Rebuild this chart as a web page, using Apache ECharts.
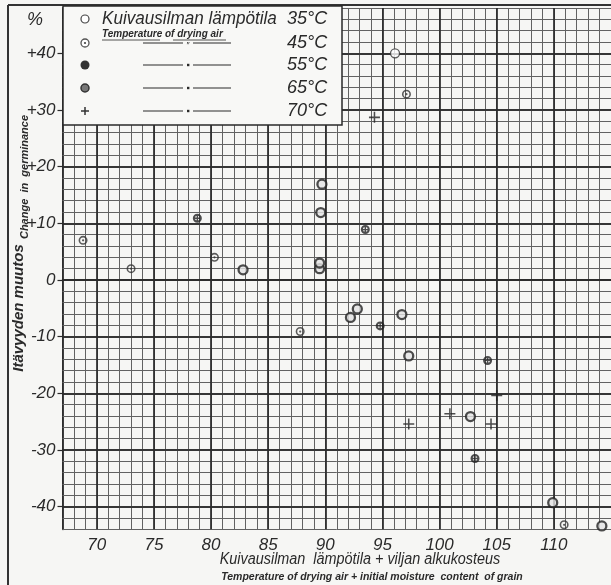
<!DOCTYPE html>
<html>
<head>
<meta charset="utf-8">
<script src="https://cdn.jsdelivr.net/npm/echarts@6/dist/echarts.min.js"></script>
<style>
  html, body { margin: 0; padding: 0; background: #f6f6f4; }
  #chart { width: 611px; height: 585px; }
</style>
</head>
<body>
<div id="chart"></div>
<script>
// pisteet: [lampotila + alkukosteus, itavyyden muutos %]
var t35 = [[96.1, 40]];
var t45 = [[68.8, 7], [73, 2], [80.3, 4], [87.8, -9.1], [97.1, 32.8], [110.9, -43.2]];
var t55 = [[78.8, 10.9], [93.5, 8.9], [94.8, -8.1], [104.2, -14.2], [103.1, -31.5]];
var t65 = [[82.8, 1.8], [89.7, 16.9], [89.6, 11.9], [89.5, 2], [89.5, 3], [92.2, -6.6], [92.8, -5.1],
           [96.7, -6.1], [97.3, -13.4], [102.7, -24.1], [109.9, -39.3], [114.2, -43.4]];
var t70 = [[94.3, 28.7], [97.3, -25.4], [100.9, -23.6], [105, -20.4], [104.5, -25.4]];

var xTicks = [70, 75, 80, 85, 90, 95, 100, 105, 110];
var yTicks = [-40, -30, -20, -10, 0, 10, 20, 30, 40];
var tempLabels = ['35°C', '45°C', '55°C', '65°C', '70°C'];

var ink = '#2a2a2a';
var font = 'Liberation Sans';

// merkit
var symDot = 'path://M10,0A10,10,0,1,1,-10,0A10,10,0,1,1,10,0ZM6.5,0A6.5,6.5,0,1,0,-6.5,0A6.5,6.5,0,1,0,6.5,0ZM2.5,0A2.5,2.5,0,1,1,-2.5,0A2.5,2.5,0,1,1,2.5,0Z';
var symCross = 'path://M10,0A10,10,0,1,1,-10,0A10,10,0,1,1,10,0ZM5.5,0A5.5,5.5,0,1,0,-5.5,0A5.5,5.5,0,1,0,5.5,0ZM-1.5,-6L1.5,-6L1.5,6L-1.5,6ZM-6,-1.5L6,-1.5L6,1.5L-6,1.5Z';
var symPlus = 'path://M-1.4,-10L1.4,-10L1.4,-1.4L10,-1.4L10,1.4L1.4,1.4L1.4,10L-1.4,10L-1.4,1.4L-10,1.4L-10,-1.4L-1.4,-1.4Z';

// vaakasuorat apuviivat 2 %:n valein
var yMinor = [];
for (var yv = -44; yv <= 48; yv += 2) {
    if (yv % 10 !== 0) yMinor.push(yv);
}

var myChart = echarts.init(document.getElementById('chart'));

function legendGraphics() {
    var g = [];
    g.push({type: 'rect', shape: {x: 63, y: 6, width: 279, height: 119},
        style: {fill: '#f8f8f6', stroke: ink, lineWidth: 1.5}, z: 100});
    var rows = [19, 43, 65, 88, 111];
    // symbolit
    g.push({type: 'circle', shape: {cx: 85, cy: rows[0], r: 4}, style: {fill: '#fff', stroke: '#444', lineWidth: 1.2}, z: 101});
    g.push({type: 'circle', shape: {cx: 85, cy: rows[1], r: 4}, style: {fill: '#fff', stroke: '#555', lineWidth: 1.3}, z: 101});
    g.push({type: 'circle', shape: {cx: 85, cy: rows[1], r: 1.1}, style: {fill: '#444'}, z: 102});
    g.push({type: 'circle', shape: {cx: 85, cy: rows[2], r: 4.5}, style: {fill: '#333'}, z: 101});
    g.push({type: 'circle', shape: {cx: 85, cy: rows[3], r: 4}, style: {fill: '#777', stroke: '#333', lineWidth: 1.5}, z: 101});
    g.push({type: 'line', shape: {x1: 81, y1: rows[4], x2: 89, y2: rows[4]}, style: {stroke: '#333', lineWidth: 1.5}, z: 101});
    g.push({type: 'line', shape: {x1: 85, y1: rows[4] - 4, x2: 85, y2: rows[4] + 4}, style: {stroke: '#333', lineWidth: 1.5}, z: 101});
    g.push({type: 'text', x: 102, y: rows[0], scaleX: 0.95, z: 101,
        style: {text: 'Kuivausilman lämpötila', font: 'italic 18px ' + font, fill: ink, textVerticalAlign: 'middle'}});
    g.push({type: 'text', x: 102, y: 34, z: 101,
        style: {text: 'Temperature of drying air', font: 'italic bold 10px ' + font, fill: ink, textVerticalAlign: 'middle'}});
    g.push({type: 'line', shape: {x1: 102, y1: 40, x2: 160, y2: 40}, style: {stroke: ink, lineWidth: 0.8}, z: 101});
    g.push({type: 'line', shape: {x1: 173, y1: 40, x2: 226, y2: 40}, style: {stroke: ink, lineWidth: 0.8}, z: 101});
    for (var i = 0; i < tempLabels.length; i++) {
        g.push({type: 'text', x: 287, y: rows[i], scaleX: 0.95, z: 101,
            style: {text: tempLabels[i], font: 'italic 19px ' + font, fill: ink, textVerticalAlign: 'middle'}});
        if (i > 0) {
            g.push({type: 'line', shape: {x1: 143, y1: rows[i], x2: 183, y2: rows[i]}, style: {stroke: ink, lineWidth: 1}, z: 101});
            g.push({type: 'line', shape: {x1: 193, y1: rows[i], x2: 231, y2: rows[i]}, style: {stroke: ink, lineWidth: 1}, z: 101});
            if (i === 1) {
                g.push({type: 'text', x: 188, y: rows[i] + 3, z: 101,
                    style: {text: '\u2033', font: '9px ' + font, fill: ink, textAlign: 'center', textVerticalAlign: 'middle'}});
            } else {
                g.push({type: 'rect', shape: {x: 187, y: rows[i] - 1.2, width: 2.4, height: 2.4}, style: {fill: ink}, z: 101});
            }
        }
    }
    return g;
}

var graphics = legendGraphics();
// kehys
graphics.push({type: 'line', shape: {x1: 8, y1: 5, x2: 611, y2: 5}, style: {stroke: '#333', lineWidth: 2}, z: 99});
graphics.push({type: 'line', shape: {x1: 8, y1: 5, x2: 8, y2: 585}, style: {stroke: '#333', lineWidth: 2}, z: 99});
// y-akselin otsikot
graphics.push({type: 'text', x: 35, y: 20, z: 101,
    style: {text: '%', font: 'italic 18px ' + font, fill: ink, textAlign: 'center', textVerticalAlign: 'middle'}});
graphics.push({type: 'text', x: 19, y: 308, rotation: Math.PI / 2, z: 101,
    style: {text: 'Itävyyden muutos', font: 'italic bold 15px ' + font, fill: ink, textAlign: 'center', textVerticalAlign: 'middle'}});
graphics.push({type: 'text', x: 25, y: 177, rotation: Math.PI / 2, z: 101,
    style: {text: 'Change  in  germinance', font: 'italic bold 11px ' + font, fill: ink, textAlign: 'center', textVerticalAlign: 'middle'}});
// x-akselin otsikot
graphics.push({type: 'text', x: 360, y: 560, scaleX: 0.9, z: 101,
    style: {text: 'Kuivausilman  lämpötila + viljan alkukosteus', font: 'italic 16px ' + font, fill: ink, textAlign: 'center', textVerticalAlign: 'middle'}});
graphics.push({type: 'text', x: 372, y: 577, z: 101,
    style: {text: 'Temperature of drying air + initial moisture  content  of grain', font: 'italic bold 10.5px ' + font, fill: ink, textAlign: 'center', textVerticalAlign: 'middle'}});

function scatter(name, data, symbol, size, style) {
    return {
        name: name,
        type: 'scatter',
        data: data,
        symbol: symbol,
        symbolSize: size,
        itemStyle: style,
        z: 5,
        silent: true
    };
}

var gridColor = '#626262';
var majorColor = '#2a2a2a';

var option = {
    animation: false,
    backgroundColor: '#f6f6f4',
    grid: {left: 62.5, right: -4.5, top: 8, bottom: 55.7},
    graphic: graphics,
    xAxis: {
        type: 'value',
        min: 67,
        max: 115,
        interval: 1,
        axisLine: {show: true, lineStyle: {color: ink, width: 1.5}},
        axisTick: {show: false},
        axisLabel: {
            customValues: xTicks,
            margin: 7,
            fontFamily: font,
            fontStyle: 'italic',
            fontSize: 17,
            color: ink,
            formatter: function (v) { return v % 5 === 0 && v >= 70 && v <= 110 ? String(v) : ''; }
        },
        splitLine: {show: true, lineStyle: {color: gridColor, width: 1}}
    },
    yAxis: {
        type: 'value',
        min: -44,
        max: 48,
        interval: 2,
        axisLine: {show: true, lineStyle: {color: ink, width: 1.8}},
        axisTick: {show: true, customValues: yTicks, length: 5, lineStyle: {color: ink, width: 1.2}},
        axisLabel: {
            customValues: yTicks,
            margin: 7,
            fontFamily: font,
            fontStyle: 'italic',
            fontSize: 17,
            color: ink,
            formatter: function (v) {
                if (v % 10 !== 0 || v < -40 || v > 40) return '';
                return v > 0 ? '+' + v : String(v);
            }
        },
        // nama seuraavat tick-arvoja => paaviivat
        splitLine: {show: true, lineStyle: {color: majorColor, width: 1.7}}
    },
    series: [
        {
            type: 'scatter',
            data: [],
            z: 2,
            silent: true,
            markLine: {
                silent: true,
                symbol: ['none', 'none'],
                label: {show: false},
                lineStyle: {type: 'solid', color: gridColor, width: 1},
                data: yMinor.map(function (v) { return {yAxis: v}; })
            }
        },
        {
            type: 'scatter',
            data: [],
            z: 3,
            silent: true,
            markLine: {
                silent: true,
                symbol: ['none', 'none'],
                label: {show: false},
                lineStyle: {type: 'solid', color: majorColor, width: 1.7},
                data: xTicks.map(function (v) { return {xAxis: v}; })
                    .concat(yTicks.map(function (v) { return {yAxis: v}; }))
            }
        },
        scatter('35°C', t35, 'circle', 9, {color: '#fff', borderColor: '#333', borderWidth: 1.3}),
        scatter('45°C', t45, symDot, 9, {color: '#333'}),
        scatter('55°C', t55, symCross, 9, {color: '#222'}),
        scatter('65°C', t65, 'circle', 9, {color: '#e4e4e4', borderColor: '#222', borderWidth: 2.3}),
        scatter('70°C', t70, symPlus, 11, {color: '#222'})
    ]
};
myChart.setOption(option);
</script>
</body>
</html>
